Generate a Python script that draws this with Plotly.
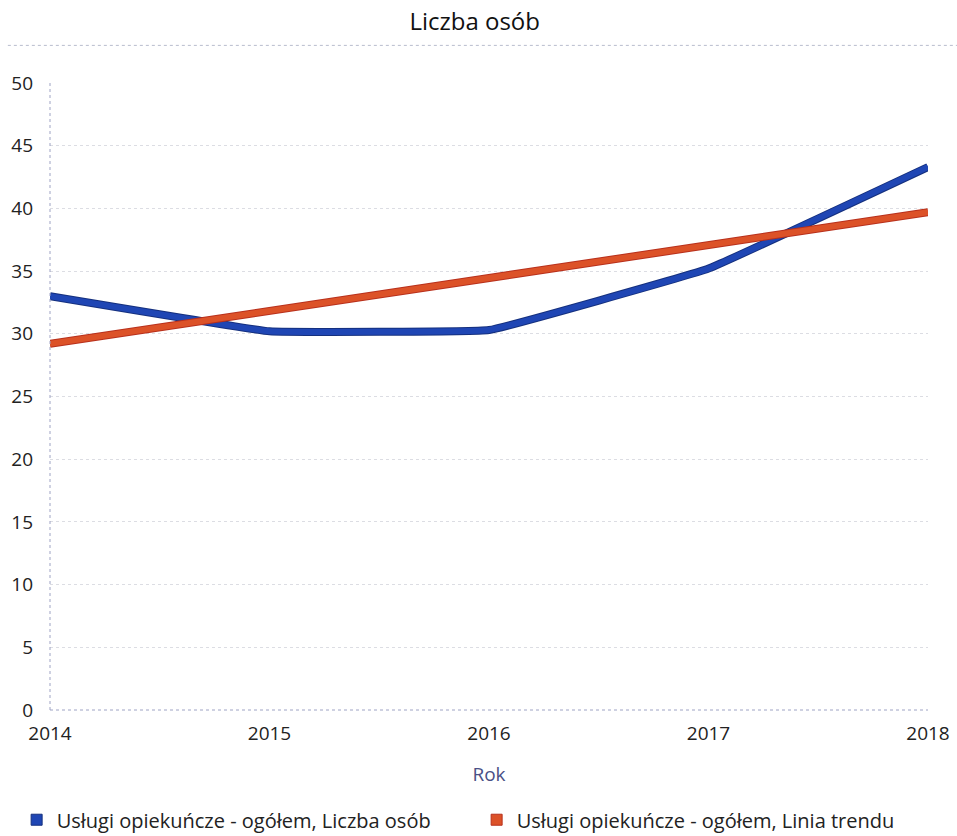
import plotly.graph_objects as go

years = [2014, 2015, 2016, 2017, 2018]
osoby = [33.0, 30.2, 30.3, 35.2, 43.3]
trend = [29.2, 31.8, 34.4, 37.0, 39.7]

name_osoby = "Usługi opiekuńcze - ogółem, Liczba osób"
name_trend = "Usługi opiekuńcze - ogółem, Linia trendu"

blue = "#1f46b4"
blue_dark = "#15307e"
red = "#dc5228"
red_dark = "#b8301c"

fig = go.Figure()
fig.add_trace(go.Scatter(x=years, y=osoby, mode="lines", showlegend=False, hoverinfo="skip",
                         line=dict(color=blue_dark, width=8, shape="spline", smoothing=0.2)))
fig.add_trace(go.Scatter(x=years, y=osoby, mode="lines", showlegend=False, name=name_osoby,
                         line=dict(color=blue, width=6, shape="spline", smoothing=0.2)))
fig.add_trace(go.Scatter(x=years, y=trend, mode="lines", showlegend=False, hoverinfo="skip",
                         line=dict(color=red_dark, width=8)))
fig.add_trace(go.Scatter(x=years, y=trend, mode="lines", showlegend=False, name=name_trend,
                         line=dict(color=red, width=6)))
# legend entries with square symbols
fig.add_trace(go.Scatter(x=[None], y=[None], mode="markers", name=name_osoby,
                         marker=dict(symbol="square", size=11, color=blue, line=dict(color=blue_dark, width=1))))
fig.add_trace(go.Scatter(x=[None], y=[None], mode="markers", name=name_trend,
                         marker=dict(symbol="square", size=11, color=red, line=dict(color=red_dark, width=1))))

fig.update_layout(
    width=957, height=836,
    margin=dict(l=50, r=29, t=83, b=126, autoexpand=False),
    paper_bgcolor="white", plot_bgcolor="white",
    font=dict(family="Open Sans, Noto Sans, sans-serif", size=18, color="#222222"),
    title=dict(text="Liczba osób", x=0.496, xanchor="center", y=0.974, yanchor="middle",
               font=dict(size=24, color="#111111")),
    showlegend=True,
    legend=dict(orientation="h", x=-0.038, xanchor="left", y=-0.175, yanchor="middle",
                font=dict(size=20, color="#222222"), itemwidth=30, tracegroupgap=0,
                entrywidthmode="pixels", entrywidth=415),
    shapes=[dict(type="line", xref="paper", yref="paper", x0=-0.048, x1=1.033, y0=1.06, y1=1.06,
                 line=dict(color="#b8bccd", width=1, dash="dot"))],
)
fig.update_xaxes(
    range=[2014, 2018], tickmode="array", tickvals=years, ticktext=[str(y) for y in years],
    showgrid=False, zeroline=False, showline=False, ticks="", ticklabelstandoff=10,
    tickfont=dict(size=19, color="#222222"),
    title=dict(text="Rok", font=dict(size=19, color="#4a4f86"), standoff=22),
)
fig.update_yaxes(
    range=[0, 50], dtick=5, tick0=0,
    showgrid=True, gridcolor="#dcdde3", griddash="dot", gridwidth=1,
    zeroline=False, showline=False,
    ticks="", ticklabelstandoff=16,
    tickfont=dict(size=19, color="#222222"),
)
fig.add_shape(type="line", xref="paper", yref="paper", x0=0, x1=0, y0=0, y1=1,
              line=dict(color="#9ea3c4", width=1, dash="dot"))
fig.add_shape(type="line", xref="paper", yref="paper", x0=0, x1=1, y0=0, y1=0,
              line=dict(color="#9ea3c4", width=1, dash="dot"))

fig.write_html("out.html", config={"displayModeBar": False},
               post_script="document.body.style.margin='0px';")
